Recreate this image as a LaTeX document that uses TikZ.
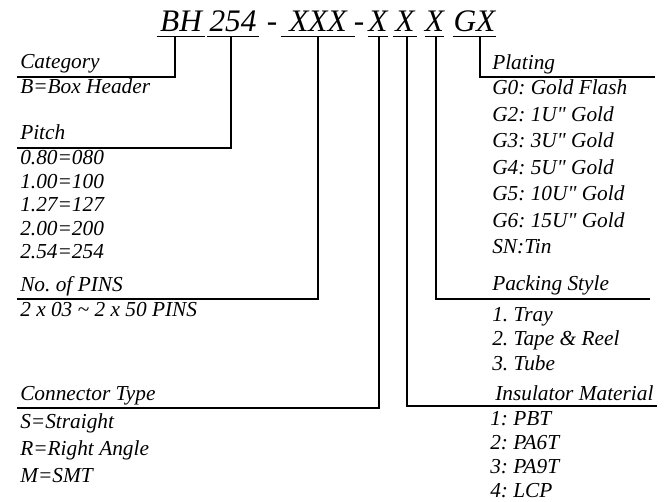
\documentclass[tikz,border=0pt]{standalone}
\usepackage{fontspec}
\setmainfont{Liberation Serif}[Ligatures=TeXOff]
\usepackage{tikz}
\usetikzlibrary{positioning, calc}
\frenchspacing
\tikzset{
  codepart/.style={font=\fontsize{23.5}{28}\selectfont\itshape, inner sep=0pt, anchor=base, text depth=3pt},
  codedash/.style={font=\fontsize{23.5}{28}\selectfont\itshape, inner sep=0pt, anchor=base},
  codeline/.style={draw=black, line width=1pt},
  fieldhead/.style={font=\fontsize{16}{19}\selectfont\itshape, inner sep=0pt, anchor=base west},
  fielditem/.style={font=\fontsize{16}{19}\selectfont\itshape, inner sep=0pt, anchor=base west},
  leader/.style={draw=black, line width=1.8pt}
}

\begin{document}
\begin{tikzpicture}[x=0.75pt, y=-0.75pt]
  \useasboundingbox (0,0) rectangle (664,502);
  % part number
  \node[codepart, minimum width=36pt] (bh) at (181,32) {BH};
  \node[codepart, minimum width=39pt] (pitch) at (233,32) {254};
  \node[codedash] (dasha) at (272,32) {-};
  \node[codepart, minimum width=55.5pt] (pins) at (318,32) {XXX};
  \node[codedash] (dashb) at (359,32) {-};
  \node[codepart, minimum width=15pt] (ctype) at (378,32) {X};
  \node[codepart, minimum width=18pt] (insu) at (405,32) {X};
  \node[codepart, minimum width=14.5pt] (pack) at (434.5,32) {X};
  \node[codepart, minimum width=32.5pt] (plat) at (474.5,32) {GX};
  \draw[codeline] (bh.south west) -- (bh.south east);
  \draw[codeline] (pitch.south west) -- (pitch.south east);
  \draw[codeline] (pins.south west) -- (pins.south east);
  \draw[codeline] (ctype.south west) -- (ctype.south east);
  \draw[codeline] (insu.south west) -- (insu.south east);
  \draw[codeline] (pack.south west) -- (pack.south east);
  \draw[codeline] (plat.south west) -- (plat.south east);

  % line ends
  \coordinate (catL) at (17,77);
  \coordinate (pitchL) at (17,148);
  \coordinate (pinsL) at (17,299);
  \coordinate (typeL) at (17,408);
  \coordinate (platR) at (655,77);
  \coordinate (packR) at (650,299);
  \coordinate (insuR) at (657,406);

  % leaders
  \draw[leader] ([xshift=-4.5pt]bh.south) |- (catL);
  \draw[leader] ([xshift=-1.5pt]pitch.south) |- (pitchL);
  \draw[leader] (pins.south) |- (pinsL);
  \draw[leader] ([xshift=0.75pt]ctype.south) |- (typeL);
  \draw[leader] ([xshift=1.5pt]insu.south) |- (insuR);
  \draw[leader] ([xshift=1.1pt]pack.south) |- (packR);
  \draw[leader] ([xshift=4.1pt]plat.south) |- (platR);

  % left fields
  \node[fieldhead] (cathead) at (20,69) {Category};
  \node[fielditem] (cat1) at (20,94) {B=Box Header};
  \node[fieldhead] (pitchhead) at (20,140) {Pitch};
  \node[fielditem] (pitch1) at (20,165) {0.80=080};
  \node[fielditem] (pitch2) at (20,188.5) {1.00=100};
  \node[fielditem] (pitch3) at (20,212) {1.27=127};
  \node[fielditem] (pitch4) at (20,235.5) {2.00=200};
  \node[fielditem] (pitch5) at (20,259) {2.54=254};
  \node[fieldhead] (pinshead) at (20,292) {No. of PINS};
  \node[fielditem] (pins1) at (20,316) {2 x 03 \textasciitilde{} 2 x 50 PINS};
  \node[fieldhead] (typehead) at (20,400) {Connector Type};
  \node[fielditem] (type1) at (20,428) {S=Straight};
  \node[fielditem] (type2) at (20,455) {R=Right Angle};
  \node[fielditem] (type3) at (20,482) {M=SMT};

  % right fields
  \node[fieldhead] (plathead) at (492,70) {Plating};
  \node[fielditem] (plat1) at (492,95) {G0: Gold Flash};
  \node[fielditem] (plat2) at (492,121.5) {G2: 1U" Gold};
  \node[fielditem] (plat3) at (492,148) {G3: 3U" Gold};
  \node[fielditem] (plat4) at (492,174.5) {G4: 5U" Gold};
  \node[fielditem] (plat5) at (492,201) {G5: 10U" Gold};
  \node[fielditem] (plat6) at (492,227.5) {G6: 15U" Gold};
  \node[fielditem] (plat7) at (492,254) {SN:Tin};
  \node[fieldhead] (packhead) at (492,291) {Packing Style};
  \node[fielditem] (pack1) at (492,321) {1. Tray};
  \node[fielditem] (pack2) at (492,345.5) {2. Tape \& Reel};
  \node[fielditem] (pack3) at (492,370) {3. Tube};
  \node[fieldhead] (insuhead) at (495,400) {Insulator Material};
  \node[fielditem] (insu1) at (490,425) {1: PBT};
  \node[fielditem] (insu2) at (490,449) {2: PA6T};
  \node[fielditem] (insu3) at (490,473) {3: PA9T};
  \node[fielditem] (insu4) at (490,497) {4: LCP};
\end{tikzpicture}
\end{document}
